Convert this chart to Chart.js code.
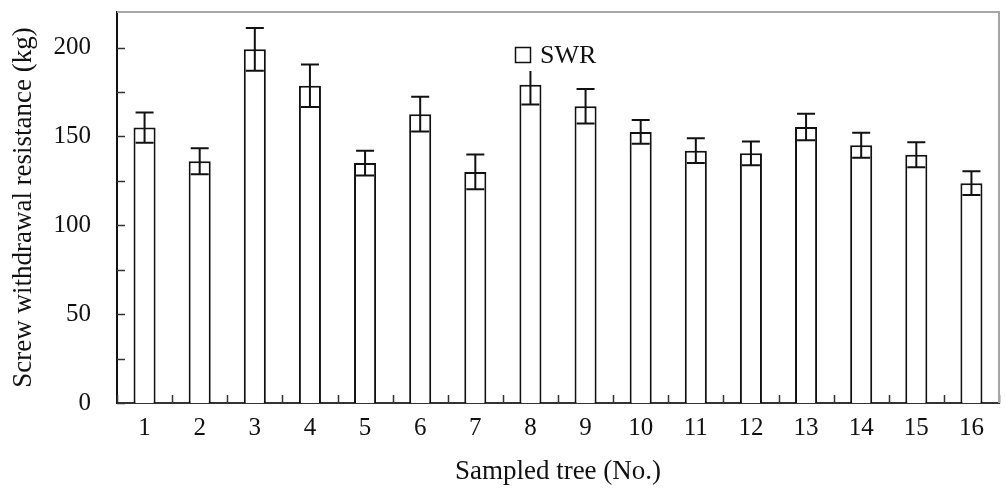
<!DOCTYPE html>
<html>
<head>
<meta charset="utf-8">
<script src="https://cdn.jsdelivr.net/npm/chart.js@4/dist/chart.umd.min.js"></script>
<style>
  body { margin: 0; background: #fff; }
  canvas { display: block; }
</style>
</head>
<body>
<canvas id="chartSWR" width="1005" height="489"></canvas>
<script>
const trees = ['1', '2', '3', '4', '5', '6', '7', '8', '9', '10', '11', '12', '13', '14', '15', '16'];
const swr = [155, 136, 199, 178.5, 135, 162.5, 130, 179, 167, 152.5, 142, 140.5, 155.3, 145, 139.7, 123.7];
const swrErr = [8.5, 7.3, 12, 12, 7, 9.8, 9.8, 11, 9.7, 6.7, 7, 6.7, 7.4, 7, 7, 6.7];
const yTicks = [0, 50, 100, 150, 200];
const yMinorTicks = [25, 75, 125, 175];
const legendLabel = 'SWR';

const serif = '"Liberation Serif", "Times New Roman", serif';

// error bars, inward tick marks, grey top/right frame and the legend
const extras = {
  id: 'extras',
  afterDatasetsDraw(chart) {
    const c = chart.ctx;
    const x = chart.scales.x, y = chart.scales.y;
    const area = chart.chartArea;
    c.save();
    c.strokeStyle = '#111';
    c.lineWidth = 2;
    swr.forEach((v, i) => {
      const px = x.getPixelForValue(i);
      const top = y.getPixelForValue(v + swrErr[i]);
      const bot = y.getPixelForValue(v - swrErr[i]);
      c.beginPath();
      c.moveTo(px, top); c.lineTo(px, bot);
      c.moveTo(px - 9, top); c.lineTo(px + 9, top);
      c.moveTo(px - 9, bot); c.lineTo(px + 9, bot);
      c.stroke();
    });

    // x ticks between categories, pointing up
    c.strokeStyle = '#333';
    c.lineWidth = 1.5;
    for (let i = 0; i <= trees.length; i++) {
      const px = Math.round(x.getPixelForValue(i - 0.5)) + 0.5;
      c.beginPath();
      c.moveTo(px, area.bottom); c.lineTo(px, area.bottom - 8);
      c.stroke();
    }
    // y ticks pointing right
    yTicks.concat(yMinorTicks).forEach(v => {
      const py = Math.round(y.getPixelForValue(v)) + 0.5;
      c.beginPath();
      c.moveTo(area.left, py); c.lineTo(area.left + 8, py);
      c.stroke();
    });

    // frame top and right
    c.strokeStyle = '#a6a6a6';
    c.lineWidth = 2;
    c.beginPath();
    c.moveTo(area.left, area.top);
    c.lineTo(area.right, area.top);
    c.lineTo(area.right, area.bottom);
    c.stroke();

    // legend
    const lx = 515, ly = 47;
    c.fillStyle = '#fff';
    c.fillRect(lx - 2, ly - 4, 90, 28);
    c.strokeStyle = '#111';
    c.lineWidth = 1.5;
    c.strokeRect(lx + 0.5, ly + 0.5, 15, 15);
    c.fillStyle = '#111';
    c.font = '26px ' + serif;
    c.textBaseline = 'middle';
    c.fillText(legendLabel, lx + 25, ly + 9);
    c.restore();
  }
};

new Chart(document.getElementById('chartSWR'), {
  type: 'bar',
  data: {
    labels: trees,
    datasets: [{
      label: legendLabel,
      data: swr,
      backgroundColor: '#fff',
      borderColor: '#111',
      borderWidth: 2,
      barPercentage: 0.4,
      categoryPercentage: 1
    }]
  },
  options: {
    responsive: false,
    animation: false,
    layout: { padding: { left: 0, right: 6, top: 12, bottom: 0 } },
    plugins: {
      tooltip: { enabled: false },
      legend: { display: false }
    },
    scales: {
      x: {
        grid: { display: false, drawTicks: false },
        border: { display: true, color: '#333', width: 2 },
        ticks: { color: '#111', padding: 10, font: { family: serif, size: 25 } },
        title: {
          display: true,
          text: 'Sampled tree (No.)',
          color: '#111',
          font: { family: serif, size: 27 },
          padding: 1
        },
        afterFit(scale) {
          scale.height = 86;
          scale.paddingLeft = 0;
          scale.paddingRight = 0;
        }
      },
      y: {
        min: 0,
        max: 220,
        grid: { display: false, drawTicks: false },
        border: { display: true, color: '#111', width: 2 },
        afterBuildTicks(scale) { scale.ticks = yTicks.map(v => ({ value: v })); },
        ticks: { color: '#111', padding: 26, font: { family: serif, size: 25 } },
        title: {
          display: true,
          text: 'Screw withdrawal resistance (kg)',
          color: '#111',
          font: { family: serif, size: 27 },
          padding: { top: 8, bottom: 0 }
        },
        afterFit(scale) {
          scale.width = 117;
          scale.paddingTop = 0;
          scale.paddingBottom = 0;
        }
      }
    }
  },
  plugins: [extras]
});
</script>
</body>
</html>
